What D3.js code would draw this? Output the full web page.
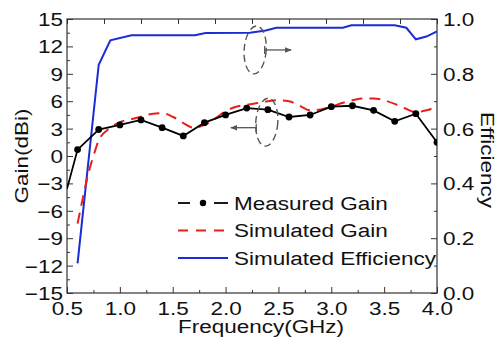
<!DOCTYPE html>
<html>
<head>
<meta charset="utf-8">
<script src="https://cdn.jsdelivr.net/npm/d3@7"></script>
<style>
  body { margin: 0; background: #fff; }
  text { font-family: "Liberation Sans", Arial, sans-serif; fill: #111; }
</style>
</head>
<body>
<div id="chart"></div>
<script>
// measured gain (dots)
const freqMeasured = [0.5, 0.6, 0.8, 1.0, 1.2, 1.4, 1.6, 1.8, 2.0, 2.2, 2.4, 2.6, 2.8, 3.0, 3.2, 3.4, 3.6, 3.8, 4.0];
const gainMeasured = [-3.6, 0.7, 2.9, 3.4, 3.95, 3.1, 2.2, 3.65, 4.5, 5.25, 5.07, 4.27, 4.49, 5.4, 5.5, 5.0, 3.8, 4.63, 1.5];

// simulated gain (dashed)
const freqSimGain = [0.6, 0.65, 0.7, 0.75, 0.8, 0.9, 1.0, 1.1, 1.2, 1.3, 1.4, 1.5, 1.6, 1.7, 1.8, 1.9, 2.0, 2.1, 2.2, 2.3, 2.4, 2.5, 2.6, 2.7, 2.8, 2.9, 3.0, 3.1, 3.2, 3.3, 3.4, 3.5, 3.6, 3.7, 3.8, 3.9, 4.0];
const gainSim = [-7.4, -4.6, -2.0, 0.0, 1.7, 3.0, 3.7, 4.0, 4.3, 4.6, 4.7, 4.3, 3.6, 3.1, 3.4, 4.1, 4.9, 5.4, 5.6, 5.8, 6.0, 6.1, 6.0, 5.5, 5.0, 5.1, 5.4, 5.8, 6.1, 6.3, 6.3, 6.1, 5.7, 5.2, 4.8, 5.0, 5.4];

// simulated efficiency (right axis)
const freqEff = [0.6, 0.8, 0.91, 1.11, 1.71, 1.81, 2.23, 2.38, 2.48, 3.11, 3.19, 3.6, 3.71, 3.8, 3.9, 4.0];
const efficiency = [0.108, 0.833, 0.922, 0.941, 0.941, 0.949, 0.95, 0.958, 0.968, 0.968, 0.977, 0.977, 0.968, 0.926, 0.936, 0.955];

const xTicks = [0.5, 1.0, 1.5, 2.0, 2.5, 3.0, 3.5, 4.0];
const gainTicks = [-15, -12, -9, -6, -3, 0, 3, 6, 9, 12, 15];
const effTicks = [0.0, 0.2, 0.4, 0.6, 0.8, 1.0];

const legendLabels = ["Measured Gain", "Simulated Gain", "Simulated Efficiency"];

const width = 498, height = 343;
const margin = {left: 67, right: 61, top: 19, bottom: 50};
const SX = 1.25;   // source font is wider than Arial
const FS = 18;
const axisColor = "#333";

const svg = d3.select("#chart").append("svg")
    .attr("width", width)
    .attr("height", height);

const x = d3.scaleLinear().domain([0.5, 4.0]).range([margin.left, width - margin.right]);
const y = d3.scaleLinear().domain([-15, 15]).range([height - margin.bottom, margin.top]);
const yR = d3.scaleLinear().domain([0, 1]).range([height - margin.bottom, margin.top]);
const xTop = d3.scaleLinear().domain([0, 10]).range([margin.left, width - margin.right]);

const x0 = x.range()[0], x1 = x.range()[1];
const y0 = y.range()[0], y1 = y.range()[1];

function wideText(sel){
    // stretch glyphs along the baseline
    sel.each(function(){
        const t = d3.select(this);
        const tx = +t.attr("x") || 0;
        t.attr("x", tx / SX).attr("transform", `scale(${SX},1)`);
    });
}

// ---- axes ----
function styleAxis(g){
    g.select(".domain").remove();
    g.selectAll("line").attr("stroke", axisColor).attr("stroke-width", 1);
    g.selectAll("text").style("font-size", FS + "px").style("font-family", "Liberation Sans, Arial, sans-serif").attr("fill", "#111");
}

// minor ticks
const xMinor = d3.range(0.75, 4.0, 0.5);
const gMinor = d3.range(-13.5, 15, 3);
const eMinor = d3.range(0.1, 1.0, 0.2);

svg.append("g")
    .attr("transform", `translate(0,${y0})`)
    .call(d3.axisBottom(x).tickValues(xMinor).tickSize(-3).tickFormat(""))
    .call(styleAxis);

const gx = svg.append("g")
    .attr("transform", `translate(0,${y0})`)
    .call(d3.axisBottom(x).tickValues(xTicks).tickSizeInner(-6).tickSizeOuter(0).tickPadding(6).tickFormat(d3.format(".1f")))
    .call(styleAxis);
gx.selectAll("text").attr("dy", "0.88em").call(wideText);

svg.append("g")
    .attr("transform", `translate(0,${y1})`)
    .call(d3.axisTop(xTop).ticks(10).tickSize(-5).tickFormat(""))
    .call(styleAxis);

svg.append("g")
    .attr("transform", `translate(${x0},0)`)
    .call(d3.axisLeft(y).tickValues(gMinor).tickSize(-3).tickFormat(""))
    .call(styleAxis);

const gy = svg.append("g")
    .attr("transform", `translate(${x0},0)`)
    .call(d3.axisLeft(y).tickValues(gainTicks).tickSizeInner(-6).tickSizeOuter(0).tickPadding(4).tickFormat(d3.format("d")))
    .call(styleAxis);
gy.selectAll("text").attr("dy", "0.36em").call(wideText);

svg.append("g")
    .attr("transform", `translate(${x1},0)`)
    .call(d3.axisRight(yR).tickValues(eMinor).tickSize(-3).tickFormat(""))
    .call(styleAxis);

const gyR = svg.append("g")
    .attr("transform", `translate(${x1},0)`)
    .call(d3.axisRight(yR).tickValues(effTicks).tickSizeInner(-6).tickSizeOuter(0).tickPadding(6).tickFormat(d3.format(".1f")))
    .call(styleAxis);
gyR.selectAll("text").attr("dy", "0.36em").call(wideText);

// frame
svg.append("rect")
    .attr("x", x0).attr("y", y1)
    .attr("width", x1 - x0).attr("height", y0 - y1)
    .attr("fill", "none")
    .attr("stroke", axisColor)
    .attr("stroke-width", 1.2);

// axis titles
svg.append("text")
    .attr("transform", `translate(${(x0 + x1) / 2 + 9},${height - 10}) scale(${SX},1)`)
    .attr("text-anchor", "middle")
    .style("font-size", FS + "px")
    .text("Frequency(GHz)");

svg.append("text")
    .attr("transform", `translate(22,${(y0 + y1) / 2}) rotate(-90) scale(${SX},1)`)
    .attr("text-anchor", "middle")
    .attr("dominant-baseline", "central")
    .style("font-size", FS + "px")
    .text("Gain(dBi)");

svg.append("text")
    .attr("transform", `translate(487,${(y0 + y1) / 2 + 4}) rotate(90) scale(${SX},1)`)
    .attr("text-anchor", "middle")
    .attr("dominant-baseline", "central")
    .style("font-size", FS + "px")
    .text("Efficiency");

// ---- series ----
svg.append("clipPath").attr("id", "plotClip")
    .append("rect").attr("x", x0).attr("y", y1).attr("width", x1 - x0).attr("height", y0 - y1);

const plot = svg.append("g").attr("clip-path", "url(#plotClip)");

const effData = freqEff.map((f, i) => ({f, v: efficiency[i]}));
const simData = freqSimGain.map((f, i) => ({f, v: gainSim[i]}));
const measData = freqMeasured.map((f, i) => ({f, v: gainMeasured[i]}));

plot.append("path")
    .datum(effData)
    .attr("fill", "none")
    .attr("stroke", "#1a2bd8")
    .attr("stroke-width", 2)
    .attr("d", d3.line().x(d => x(d.f)).y(d => yR(d.v)));

plot.append("path")
    .datum(simData)
    .attr("fill", "none")
    .attr("stroke", "#e8201c")
    .attr("stroke-width", 2)
    .attr("stroke-dasharray", "11,7")
    .attr("d", d3.line().curve(d3.curveMonotoneX).x(d => x(d.f)).y(d => y(d.v)));

plot.append("path")
    .datum(measData)
    .attr("fill", "none")
    .attr("stroke", "#000")
    .attr("stroke-width", 1.8)
    .attr("d", d3.line().x(d => x(d.f)).y(d => y(d.v)));

plot.selectAll(".dot")
    .data(measData.slice(1))
    .enter()
    .append("circle")
    .attr("class", "dot")
    .attr("cx", d => x(d.f))
    .attr("cy", d => y(d.v))
    .attr("r", 3.4)
    .attr("fill", "#000");

// ---- annotation ellipses + arrows ----
const annoColor = "#555";
svg.append("defs").append("marker")
    .attr("id", "arrowHead")
    .attr("viewBox", "0 0 10 10")
    .attr("refX", 9).attr("refY", 5)
    .attr("markerWidth", 7).attr("markerHeight", 7)
    .attr("markerUnits", "userSpaceOnUse")
    .attr("orient", "auto")
    .append("path").attr("d", "M0,1 L10,5 L0,9 Z").attr("fill", annoColor);

function annotation(cx, cy, ax0, ax1, ay){
    svg.append("ellipse")
        .attr("cx", cx).attr("cy", cy)
        .attr("rx", 11).attr("ry", 24)
        .attr("transform", `rotate(4,${cx},${cy})`)
        .attr("fill", "none")
        .attr("stroke", annoColor)
        .attr("stroke-width", 1.4)
        .attr("stroke-dasharray", "7,4");
    svg.append("line")
        .attr("x1", ax0).attr("x2", ax0)
        .attr("y1", ay - 4).attr("y2", ay + 4)
        .attr("stroke", annoColor).attr("stroke-width", 1.3);
    svg.append("line")
        .attr("x1", ax0).attr("x2", ax1)
        .attr("y1", ay).attr("y2", ay)
        .attr("stroke", annoColor).attr("stroke-width", 1.3)
        .attr("marker-end", "url(#arrowHead)");
}
annotation(x(2.28), yR(0.887), x(2.37), x(2.62), yR(0.887));
annotation(x(2.39), y(3.7), x(2.29), x(2.05), y(3.1));

// ---- legend ----
const legend = svg.append("g").attr("transform", "translate(178,203)");
const rowH = 27.5;
legendLabels.forEach((lab, i) => {
    const g = legend.append("g").attr("transform", `translate(0,${i * rowH})`);
    if (i === 0) {
        g.append("line").attr("x1", 0).attr("x2", 12).attr("stroke", "#000").attr("stroke-width", 1.8);
        g.append("line").attr("x1", 36).attr("x2", 50).attr("stroke", "#000").attr("stroke-width", 1.8);
        g.append("circle").attr("cx", 25).attr("r", 3.2).attr("fill", "#000");
    } else if (i === 1) {
        g.append("line").attr("x1", 0).attr("x2", 50).attr("stroke", "#e8201c").attr("stroke-width", 2).attr("stroke-dasharray", "10,8");
    } else {
        g.append("line").attr("x1", 0).attr("x2", 50).attr("stroke", "#1a2bd8").attr("stroke-width", 2);
    }
    g.append("text")
        .attr("transform", `translate(56,6.5) scale(${SX},1)`)
        .style("font-size", FS + "px")
        .text(lab);
});
</script>
</body>
</html>
